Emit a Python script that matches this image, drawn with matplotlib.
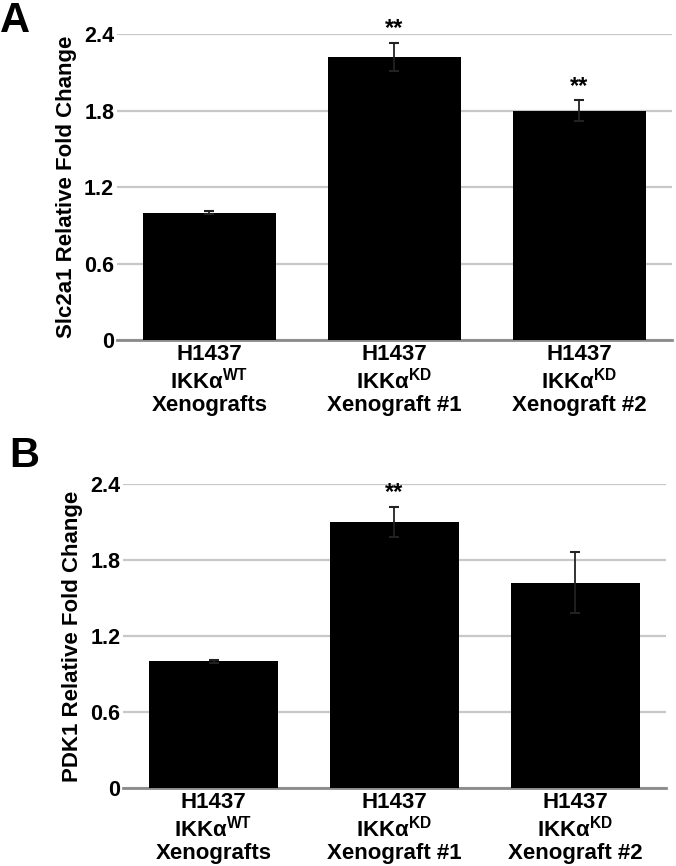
import matplotlib
matplotlib.use("Agg")
import matplotlib.pyplot as plt

plt.rcParams['font.family'] = ['Liberation Sans', 'DejaVu Sans']
plt.rcParams['font.weight'] = 'bold'
plt.rcParams['mathtext.fontset'] = 'custom'
plt.rcParams['mathtext.rm'] = 'Liberation Sans:bold'
plt.rcParams['mathtext.bf'] = 'Liberation Sans:bold'

# data
groups = ['H1437\nIKKα$^{\\mathrm{WT}}$\nXenografts',
          'H1437\nIKKα$^{\\mathrm{KD}}$\nXenograft #1',
          'H1437\nIKKα$^{\\mathrm{KD}}$\nXenograft #2']
slc2a1 = [1.00, 2.22, 1.80]
slc2a1_err = [0.01, 0.11, 0.08]
slc2a1_sig = ['', '**', '**']
pdk1 = [1.00, 2.10, 1.62]
pdk1_err = [0.01, 0.12, 0.24]
pdk1_sig = ['', '**', '']
yticks = [0, 0.6, 1.2, 1.8, 2.4]
yticklabels = ['0', '0.6', '1.2', '1.8', '2.4']

fig = plt.figure(figsize=(6.76, 8.66), dpi=100)


def panel(ax, vals, errs, sig, ylabel):
    x = range(len(vals))
    ax.bar(x, vals, width=0.715, color='black', zorder=3)
    ax.errorbar(x, vals, yerr=errs, fmt='none', ecolor='#222222',
                elinewidth=1.3, capsize=3.5, capthick=1.5, zorder=4)
    for i, s in enumerate(sig):
        if s:
            ax.text(i, vals[i] + errs[i] + 0.11, s, ha='center', va='center',
                    fontsize=17, fontweight='bold', clip_on=False)
    ax.set_xlim(-0.5, 2.5)
    ax.set_ylim(0, 2.4)
    ax.set_yticks(yticks)
    ax.set_yticklabels(yticklabels)
    ax.set_xticks(list(x))
    ax.set_xticklabels(groups, fontsize=16, linespacing=1.1)
    ax.tick_params(length=0)
    ax.tick_params(axis='y', labelsize=15.5, pad=2)
    ax.tick_params(axis='x', pad=3)
    ax.yaxis.grid(True, color='#c8c8c8', lw=1.6, zorder=0)
    ax.set_axisbelow(True)
    for sp in ['top', 'left', 'right']:
        ax.spines[sp].set_visible(False)
    ax.spines['bottom'].set_color('#8a8a8a')
    ax.spines['bottom'].set_linewidth(2)
    ax.set_ylabel(ylabel, fontsize=16, fontweight='bold', labelpad=5)


axA = fig.add_axes([0.173, 0.6074, 0.821, 0.3533])
panel(axA, slc2a1, slc2a1_err, slc2a1_sig, 'Slc2a1 Relative Fold Change')
axB = fig.add_axes([0.182, 0.0901, 0.803, 0.351])
panel(axB, pdk1, pdk1_err, pdk1_sig, 'PDK1 Relative Fold Change')

fig.text(0.0, 0.999, 'A', fontsize=30, fontweight='bold', va='top', ha='left')
fig.text(0.013, 0.497, 'B', fontsize=30, fontweight='bold', va='top', ha='left')

fig.savefig('out.png', dpi=100)
